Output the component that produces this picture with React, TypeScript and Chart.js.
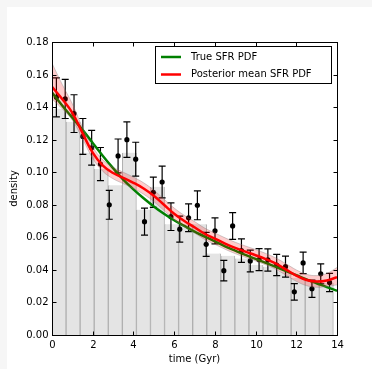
import React, { useEffect, useRef } from "react";
import { Chart, registerables } from "chart.js";

Chart.register(...registerables);

// Histogram (bin centres, Gyr) and heights
const binCenters = [0.346, 1.037, 1.728, 2.419, 3.11, 3.801, 4.492, 5.183, 5.874, 6.565, 7.256, 7.947, 8.638, 9.329, 10.02, 10.711, 11.402, 12.093, 12.784, 13.475];
const binHeights = [0.139, 0.131, 0.112, 0.102, 0.092, 0.112, 0.077, 0.091, 0.068, 0.068, 0.068, 0.05, 0.0487, 0.047, 0.043, 0.042, 0.039, 0.035, 0.034, 0.032];

// Data points with error bars
const pointTimes = [0.216, 0.649, 1.082, 1.515, 1.948, 2.38, 2.813, 3.246, 3.679, 4.112, 4.545, 4.977, 5.41, 5.843, 6.276, 6.709, 7.142, 7.574, 8.007, 8.44, 8.873, 9.306, 9.739, 10.172, 10.604, 11.037, 11.47, 11.903, 12.336, 12.769, 13.201, 13.634];
const pointDensities = [0.146, 0.145, 0.136, 0.122, 0.115, 0.105, 0.08, 0.11, 0.12, 0.108, 0.0696, 0.0877, 0.094, 0.0727, 0.065, 0.072, 0.0797, 0.0557, 0.064, 0.0395, 0.067, 0.0518, 0.0455, 0.0463, 0.0461, 0.043, 0.042, 0.0265, 0.0443, 0.0284, 0.0376, 0.0323];
const pointErrors = [0.012, 0.012, 0.0116, 0.011, 0.0107, 0.0102, 0.0089, 0.0104, 0.0109, 0.0104, 0.0083, 0.0093, 0.0097, 0.0085, 0.008, 0.0085, 0.0089, 0.0074, 0.008, 0.0063, 0.0082, 0.0072, 0.0067, 0.0068, 0.0068, 0.0065, 0.0065, 0.0051, 0.0066, 0.0053, 0.0061, 0.0056];

// Curves
const curveTimes = [0, 0.5, 1, 1.5, 2, 2.5, 3, 3.5, 4, 4.5, 5, 5.5, 6, 6.5, 7, 7.5, 8, 8.5, 9, 9.5, 10, 10.5, 11, 11.5, 12, 12.5, 13, 13.5, 14];
const trueSfr = [0.149, 0.141, 0.1335, 0.126, 0.118, 0.11, 0.1025, 0.0955, 0.0895, 0.084, 0.079, 0.0745, 0.0705, 0.067, 0.0635, 0.0605, 0.0575, 0.0545, 0.0518, 0.0492, 0.0468, 0.0443, 0.0418, 0.0393, 0.0368, 0.0342, 0.0318, 0.0294, 0.0272];
const postMean = [0.1525, 0.145, 0.1365, 0.124, 0.112, 0.104, 0.0995, 0.0965, 0.0935, 0.09, 0.0855, 0.08, 0.0745, 0.07, 0.0662, 0.0622, 0.0592, 0.0562, 0.0535, 0.0512, 0.049, 0.0466, 0.0438, 0.0402, 0.0365, 0.0338, 0.0328, 0.0335, 0.0355];
const postLow = [0.145, 0.139, 0.132, 0.1205, 0.1085, 0.1005, 0.096, 0.093, 0.09, 0.0865, 0.082, 0.0765, 0.071, 0.0665, 0.0627, 0.0587, 0.0557, 0.0527, 0.05, 0.0477, 0.0455, 0.0431, 0.0403, 0.0367, 0.033, 0.0303, 0.0293, 0.0298, 0.0308];
const postHigh = [0.167, 0.154, 0.142, 0.1275, 0.1155, 0.1075, 0.103, 0.1, 0.097, 0.0935, 0.089, 0.0835, 0.078, 0.0735, 0.0697, 0.0657, 0.0627, 0.0597, 0.057, 0.0547, 0.0525, 0.0501, 0.0473, 0.0437, 0.04, 0.0373, 0.0365, 0.0378, 0.0415];

// Axes
const xTickValues = [0, 2, 4, 6, 8, 10, 12, 14];
const yTickValues = [0, 0.02, 0.04, 0.06, 0.08, 0.1, 0.12, 0.14, 0.16, 0.18];
const xTitle = "time (Gyr)";
const yTitle = "density";
const legendLabels = ["True SFR PDF", "Posterior mean SFR PDF"];
const legendColors = ["#008000", "#ff0000"];

const FONT = '10px "DejaVu Sans"';

const decorPlugin = {
  id: "decor",
  afterDatasetDraw(chart: any, args: any) {
    if (args.index !== 0) return;
    const { ctx } = chart;
    const xs = chart.scales.x;
    const ys = chart.scales.y;
    ctx.save();
    ctx.strokeStyle = "#000";
    ctx.lineWidth = 1.2;
    for (let i = 0; i < pointTimes.length; i++) {
      const px = xs.getPixelForValue(pointTimes[i]);
      const yt = ys.getPixelForValue(pointDensities[i] + pointErrors[i]);
      const yb = ys.getPixelForValue(pointDensities[i] - pointErrors[i]);
      ctx.beginPath();
      ctx.moveTo(px, yt);
      ctx.lineTo(px, yb);
      ctx.moveTo(px - 3.5, yt);
      ctx.lineTo(px + 3.5, yt);
      ctx.moveTo(px - 3.5, yb);
      ctx.lineTo(px + 3.5, yb);
      ctx.stroke();
    }
    ctx.restore();
  },
  afterDraw(chart: any) {
    const { ctx, chartArea: a } = chart;
    const xs = chart.scales.x;
    const ys = chart.scales.y;
    ctx.save();
    const L = Math.round(a.left) + 0.5;
    const R = Math.round(a.right) + 0.5;
    const T = Math.round(a.top) + 0.5;
    const B = Math.round(a.bottom) + 0.5;
    ctx.strokeStyle = "#000";
    ctx.lineWidth = 1;
    ctx.strokeRect(L, T, R - L, B - T);
    ctx.fillStyle = "#000";
    ctx.font = FONT;
    ctx.textAlign = "center";
    ctx.textBaseline = "top";
    for (const v of xTickValues) {
      const px = Math.round(xs.getPixelForValue(v)) + 0.5;
      ctx.beginPath();
      ctx.moveTo(px, B);
      ctx.lineTo(px, B - 4);
      ctx.moveTo(px, T);
      ctx.lineTo(px, T + 4);
      ctx.stroke();
      ctx.fillText(String(v), px, B + 5);
    }
    ctx.textAlign = "right";
    ctx.textBaseline = "middle";
    for (const v of yTickValues) {
      const py = Math.round(ys.getPixelForValue(v)) + 0.5;
      ctx.beginPath();
      ctx.moveTo(L, py);
      ctx.lineTo(L + 4, py);
      ctx.moveTo(R, py);
      ctx.lineTo(R - 4, py);
      ctx.stroke();
      ctx.fillText(v.toFixed(2), L - 4, py);
    }
    ctx.textAlign = "center";
    ctx.textBaseline = "middle";
    ctx.fillText(xTitle, (a.left + a.right) / 2, 359);
    ctx.save();
    ctx.translate(14, (a.top + a.bottom) / 2);
    ctx.rotate(-Math.PI / 2);
    ctx.fillText(yTitle, 0, 0);
    ctx.restore();
    const lx = 155.5, ly = 46.5, lw = 176, lh = 37;
    ctx.fillStyle = "#fff";
    ctx.fillRect(lx, ly, lw, lh);
    ctx.strokeStyle = "#000";
    ctx.lineWidth = 1;
    ctx.strokeRect(lx, ly, lw, lh);
    ctx.textAlign = "left";
    ctx.textBaseline = "middle";
    for (let i = 0; i < legendLabels.length; i++) {
      const yy = 57 + i * 17.5;
      ctx.strokeStyle = legendColors[i];
      ctx.lineWidth = 2.5;
      ctx.beginPath();
      ctx.moveTo(161, yy);
      ctx.lineTo(181, yy);
      ctx.stroke();
      ctx.fillStyle = "#000";
      ctx.fillText(legendLabels[i], 191, yy);
    }
    ctx.restore();
  },
};

export default function App() {
  const ref = useRef<HTMLCanvasElement | null>(null);
  useEffect(() => {
    document.body.style.margin = "0";
    const canvas = ref.current;
    if (!canvas) return;
    const lineBase = { pointRadius: 0, tension: 0.4 };
    const chart = new Chart(canvas, {
      type: "bar",
      data: {
        datasets: [
          {
            type: "bar",
            data: binCenters.map((x, i) => ({ x, y: binHeights[i] })),
            backgroundColor: "#e4e4e4",
            borderColor: "#b0b0b0",
            borderWidth: { left: 1, right: 1, top: 0, bottom: 0 },
            barPercentage: 1,
            categoryPercentage: 1,
            order: 10,
          } as any,
          {
            type: "line",
            data: pointTimes.map((x, i) => ({ x, y: pointDensities[i] })),
            showLine: false,
            pointRadius: 2.6,
            pointBackgroundColor: "#000",
            pointBorderWidth: 0,
            order: 8,
          },
          {
            type: "line",
            data: curveTimes.map((x, i) => ({ x, y: trueSfr[i] })),
            borderColor: "#008000",
            borderWidth: 2.5,
            fill: false,
            order: 6,
            ...lineBase,
          },
          {
            type: "line",
            data: curveTimes.map((x, i) => ({ x, y: postMean[i] })),
            borderColor: "#ff0000",
            borderWidth: 2.5,
            fill: false,
            order: 5,
            ...lineBase,
          },
          {
            type: "line",
            data: curveTimes.map((x, i) => ({ x, y: postHigh[i] })),
            borderColor: "rgba(120,120,120,0.35)",
            borderWidth: 1,
            backgroundColor: "rgba(255,0,0,0.2)",
            fill: "+1",
            order: 4,
            ...lineBase,
          },
          {
            type: "line",
            data: curveTimes.map((x, i) => ({ x, y: postLow[i] })),
            borderColor: "rgba(120,120,120,0.35)",
            borderWidth: 1,
            fill: false,
            order: 3,
            ...lineBase,
          },
        ],
      },
      options: {
        responsive: false,
        animation: false,
        layout: { padding: { left: 52, right: 35, top: 42, bottom: 34 } },
        scales: {
          x: { type: "linear", min: 0, max: 14, offset: false, display: false, ticks: { stepSize: 2 } },
          y: { type: "linear", min: 0, max: 0.18, display: false },
        },
        plugins: {
          legend: { display: false },
          tooltip: { enabled: false },
        },
      },
      plugins: [decorPlugin],
    } as any);
    return () => chart.destroy();
  }, []);
  return (
    <div style={{ position: "relative", width: 372, height: 369, background: "#f6f6f6" }}>
      <div style={{ position: "absolute", left: 7, top: 7, right: 0, bottom: 0, background: "#fff" }} />
      <canvas ref={ref} width={372} height={369} style={{ position: "absolute", left: 0, top: 0 }} />
    </div>
  );
}
